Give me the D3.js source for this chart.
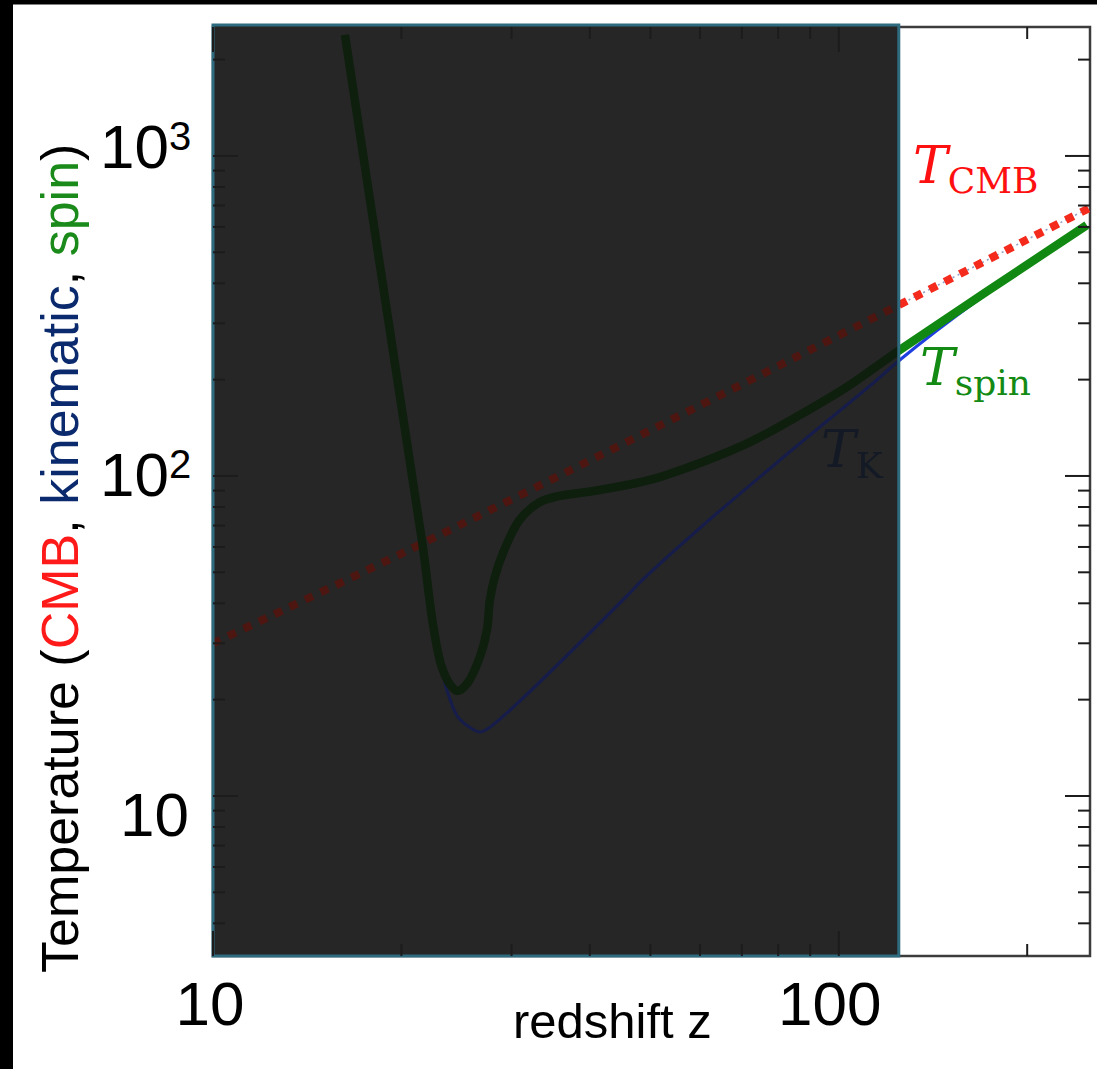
<!DOCTYPE html>
<html><head><meta charset="utf-8">
<script src="https://cdn.jsdelivr.net/npm/d3@7"></script>
<style>html,body{margin:0;padding:0;background:#fff;}svg{display:block;}</style>
</head><body>
<script>
// ---- data ----
const cmbZ = [10, 20, 50, 100, 150, 200, 252];
const cmbT = [30.0, 57.2, 139, 275, 411, 548, 689];

const spinZ = [16.25, 19.6, 21.6, 22.5, 23.2, 24.0, 24.6, 25.5, 26.7, 27.4, 27.7, 28.2, 29.06, 30.9, 33.3, 35.8, 41.5, 49.9, 60.0, 72.1, 86.6, 104.1, 123.8, 249];
const spinT = [2388, 214, 61.8, 33.7, 25.3, 22.1, 21.3, 22.5, 27.2, 33.0, 41.0, 48.3, 57.4, 72.9, 82.9, 86.6, 90.4, 97.2, 109.8, 127.6, 155, 192.3, 244, 608];

const kinZ = [22.5, 23.2, 23.65, 24.6, 25.7, 26.7, 27.7, 46.3, 48.1, 60.0, 80.5, 115, 125, 166, 249];
const kinT = [33.7, 25.3, 21.4, 17.7, 16.4, 15.85, 16.4, 43.0, 46.5, 68.8, 112, 199.5, 230, 352, 604];

const xMajor = [10, 100];
const xMajorLabels = ["10", "100"];
const xMinor = [20, 30, 40, 50, 60, 70, 80, 90, 200];
const yMajor = [10, 100, 1000];
const yMajorBase = ["10", "10", "10"];
const yMajorExp = ["", "2", "3"];
const yMinor = [4, 5, 6, 7, 8, 9, 20, 30, 40, 50, 60, 70, 80, 90, 200, 300, 400, 500, 600, 700, 800, 900, 2000];
const xDomain = [10, 252];
const yDomain = [3.162, 2529];
const shadedUpTo = 124.7;

const xTitle = "redshift z";
const yTitleParts = [
  {t: "Temperature (", c: "#000"},
  {t: "CMB", c: "#ff1a1a"},
  {t: ", ", c: "#000"},
  {t: "kinematic", c: "#0b2a6e"},
  {t: ", ", c: "#000"},
  {t: "spin", c: "#1a8a1a"},
  {t: ")", c: "#000"}
];

// ---- layout ----
const W = 1097, H = 1069;
const L = 213, R = 1090, T = 27, B = 956;

const svg = d3.select("body").append("svg").attr("width", W).attr("height", H);
svg.append("rect").attr("width", W).attr("height", H).attr("fill", "#fff");
svg.append("rect").attr("x", 0).attr("y", 0).attr("width", W).attr("height", 4.5).attr("fill", "#000");
svg.append("rect").attr("x", 0).attr("y", 0).attr("width", 13).attr("height", H).attr("fill", "#000");

const x = d3.scaleLog().domain(xDomain).range([L, R]);
const y = d3.scaleLog().domain(yDomain).range([B, T]);
const xs = x(shadedUpTo);

const defs = svg.append("defs");
defs.append("clipPath").attr("id", "clipOut").append("rect")
  .attr("x", xs).attr("y", T).attr("width", R - xs).attr("height", B - T);
defs.append("clipPath").attr("id", "clipIn").append("rect")
  .attr("x", L).attr("y", T).attr("width", xs - L).attr("height", B - T);

svg.append("rect").attr("x", L).attr("y", T).attr("width", R - L).attr("height", B - T)
  .attr("fill", "none").attr("stroke", "#3c3c3c").attr("stroke-width", 2.5);

const line = d3.line().x(d => x(d[0])).y(d => y(d[1])).curve(d3.curveCatmullRom.alpha(0.5));
const cmb = cmbZ.map((z, i) => [z, cmbT[i]]);
const spin = spinZ.map((z, i) => [z, spinT[i]]);
const kin = kinZ.map((z, i) => [z, kinT[i]]);

function drawCurves(g, colors) {
  if (colors.under) {
    g.append("path").attr("d", line(cmb)).attr("fill", "none")
      .attr("stroke", colors.under).attr("stroke-width", 1.6).attr("stroke-dasharray", "2,3.5");
  }
  g.append("path").attr("d", line(cmb)).attr("fill", "none")
    .attr("stroke", colors.red).attr("stroke-width", 8).attr("stroke-dasharray", "8.5,8.5");
  g.append("path").attr("d", line(kin)).attr("fill", "none")
    .attr("stroke", colors.blue).attr("stroke-width", 3.2).attr("stroke-linejoin", "round");
  g.append("path").attr("d", line(spin)).attr("fill", "none")
    .attr("stroke", colors.green).attr("stroke-width", 8.5).attr("stroke-linejoin", "round");
}

drawCurves(svg.append("g").attr("clip-path", "url(#clipOut)"),
  {red: "#f32a1c", blue: "#1f3fe0", green: "#118811", under: "#95a0c6"});

svg.append("rect").attr("x", L).attr("y", 25).attr("width", xs - L).attr("height", B - 25)
  .attr("fill", "#262626");

drawCurves(svg.append("g").attr("clip-path", "url(#clipIn)"),
  {red: "#4d1611", blue: "#171d4a", green: "#0e1f0e", under: null});

svg.append("rect").attr("x", L).attr("y", 25).attr("width", xs - L).attr("height", B - 25)
  .attr("fill", "none").attr("stroke", "#2f6b7e").attr("stroke-width", 3);

const tk = svg.append("g").attr("stroke", "#1c1c1c").attr("stroke-width", 2);
function xTick(v, len) {
  const px = x(v);
  tk.append("line").attr("x1", px).attr("x2", px).attr("y1", B).attr("y2", B - len);
  tk.append("line").attr("x1", px).attr("x2", px).attr("y1", T).attr("y2", T + len);
}
function yTick(v, len) {
  const py = y(v);
  tk.append("line").attr("x1", L).attr("x2", L + len).attr("y1", py).attr("y2", py);
  tk.append("line").attr("x1", R).attr("x2", R - len).attr("y1", py).attr("y2", py);
}
xMajor.forEach(v => xTick(v, 25));
xMinor.forEach(v => xTick(v, 12));
yMajor.forEach(v => yTick(v, 25));
yMinor.forEach(v => yTick(v, 12));

const sans = "'Liberation Sans', Arial, sans-serif";
const xLabelDx = [-3, -9];
xMajor.forEach((v, i) => {
  svg.append("text").attr("x", x(v) + xLabelDx[i]).attr("y", 1025)
    .attr("text-anchor", "middle").attr("font-family", sans).attr("font-size", 62)
    .attr("fill", "#000").text(xMajorLabels[i]);
});
const yLabelX = [120, 100, 100];
const yLabelDy = [40, 20, 12];
yMajor.forEach((v, i) => {
  const t = svg.append("text").attr("x", yLabelX[i]).attr("y", y(v) + yLabelDy[i])
    .attr("font-family", sans).attr("font-size", 62).attr("fill", "#000");
  t.append("tspan").text(yMajorBase[i]);
  if (yMajorExp[i]) t.append("tspan").attr("font-size", 40).attr("dy", -18).text(yMajorExp[i]);
});

svg.append("text").attr("x", 513).attr("y", 1038).attr("font-family", sans)
  .attr("font-size", 49).attr("fill", "#000").text(xTitle);
const yt = svg.append("text").attr("transform", "translate(78,973) rotate(-90)")
  .attr("font-family", sans).attr("font-size", 52);
yTitleParts.forEach(p => yt.append("tspan").attr("fill", p.c).text(p.t));

// curve labels: italic T with upright subscript in one text element
const serif = "'DejaVu Serif', 'Liberation Serif', serif";
function curveLabel(xT, yT, sub, dySub, color) {
  const t = svg.append("text").attr("x", xT).attr("y", yT).attr("font-family", serif)
    .attr("fill", color);
  t.append("tspan").attr("font-style", "italic").attr("font-size", 52).text("T");
  t.append("tspan").attr("font-size", 36).attr("dy", dySub).text(sub);
}
curveLabel(913, 183, "CMB", 10, "#ff1010");
curveLabel(920, 385, "spin", 10, "#138a13");
curveLabel(821, 467, "K", 11, "#131925");
</script>
</body></html>
